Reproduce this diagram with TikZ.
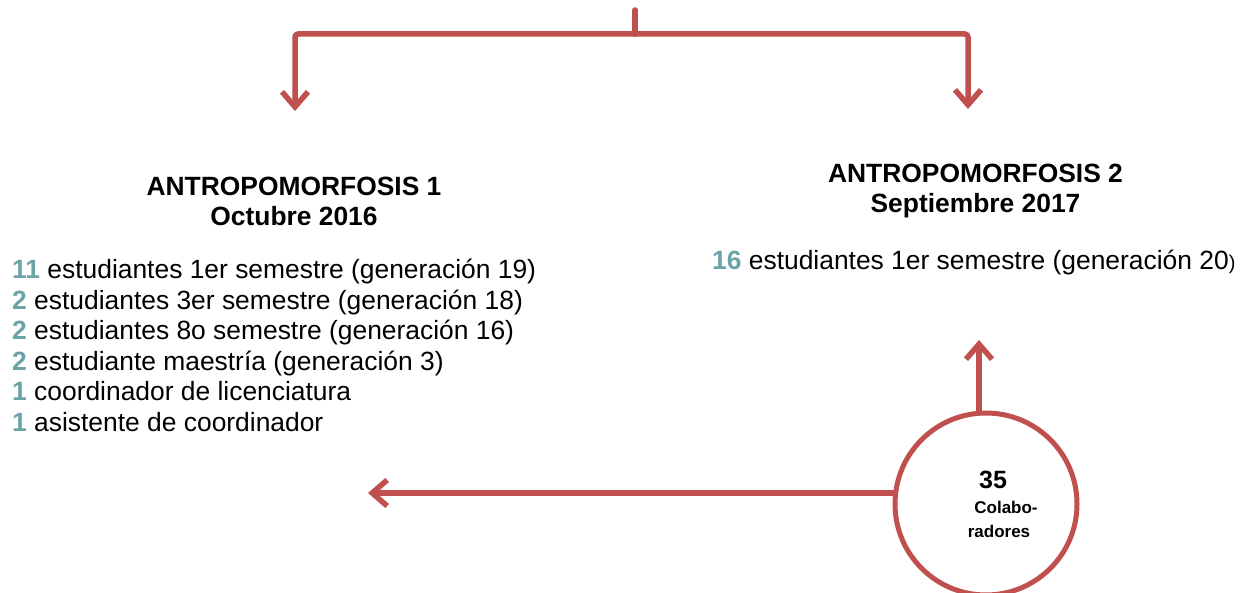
\documentclass[tikz,border=0pt]{standalone}
\usepackage{fontspec}
\setmainfont{Liberation Sans}
\usetikzlibrary{arrows.meta}
\definecolor{cred}{RGB}{192,80,77}
\definecolor{cteal}{RGB}{107,163,166}
\tikzset{
  conn/.style={draw=cred, line width=5.5pt, line cap=round, line join=round, rounded corners=3pt},
  arr/.style={conn, -{Straight Barb[length=15pt, width=26pt, line width=5.5pt]}},
  title/.style={font=\fontsize{26.4}{30}\selectfont\bfseries, align=center, inner sep=0pt},
  item/.style={font=\fontsize{26.4}{30.5}\selectfont, anchor=base west, inner sep=0pt},
  ctext/.style={font=\fontsize{17}{24}\selectfont\bfseries, anchor=base, inner sep=0pt},
}
\newcommand{\num}[1]{\textcolor{cteal}{\bfseries #1}}
\begin{document}
\begin{tikzpicture}[x=1pt, y=-1pt]
\useasboundingbox (0,0) rectangle (1248,593);
% bracket
\coordinate (top) at (635,10);
\coordinate (mid) at (635,34);
\coordinate (jl) at (295,34);
\coordinate (jr) at (968,34);
\coordinate (tip1) at (295,111);
\coordinate (tip2) at (968,109);
\draw[conn] (top) -- (mid);
\draw[arr] (mid) -- (jl) -- (tip1);
\draw[arr] (mid) -- (jr) -- (tip2);
% titles
\node[title, anchor=base] (t1a) at (294,196) {ANTROPOMORFOSIS 1};
\node[title, anchor=base] (t1b) at (294,226) {Octubre 2016};
\node[title, anchor=base] (t2a) at (975.5,183) {ANTROPOMORFOSIS 2};
\node[title, anchor=base] (t2b) at (975.5,213) {Septiembre 2017};
% lists
\node[item] (l1) at (12,279) {\num{11} estudiantes 1er semestre (generación 19)};
\node[item] (l2) at (12,309.5) {\num{2} estudiantes 3er semestre (generación 18)};
\node[item] (l3) at (12,340) {\num{2} estudiantes 8o semestre (generación 16)};
\node[item] (l4) at (12,370.5) {\num{2} estudiante maestría (generación 3)};
\node[item] (l5) at (12,401) {\num{1} coordinador de licenciatura};
\node[item] (l6) at (12,431.5) {\num{1} asistente de coordinador};
\node[item] (r1) at (712,270) {\num{16} estudiantes 1er semestre (generación 20{\fontsize{20}{20}\selectfont)}};
% circle
\node[circle, draw=cred, line width=5pt, minimum size=182pt, inner sep=0pt] (c) at (986,504) {};
\node[ctext, font=\fontsize{25}{25}\selectfont\bfseries] (c1) at (993,488) {35};
\node[ctext] (c2) at (1006,513) {Colabo-};
\node[ctext] (c3) at (999,537) {radores};
\coordinate (up) at (979,340);
\coordinate (left) at (368,493);
\draw[arr] (c.north -| up) -- (up);
\draw[arr] (c.west |- left) -- (left);
\end{tikzpicture}
\end{document}
